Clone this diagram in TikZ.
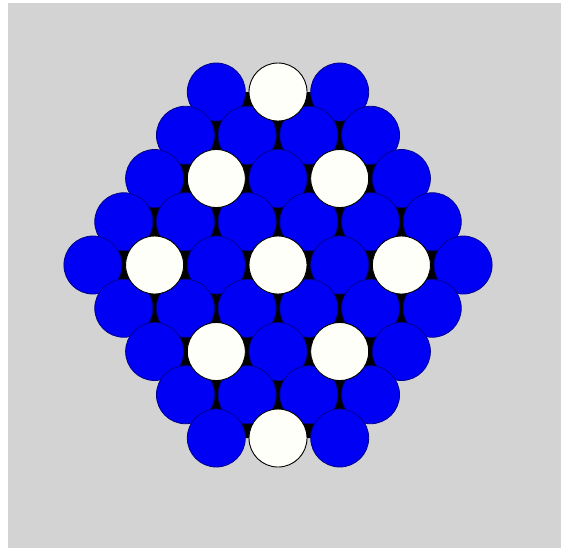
\documentclass[tikz,border=0pt]{standalone}
\definecolor{bggrey}{RGB}{211,211,211}
\definecolor{blu}{RGB}{0,0,245}
\definecolor{blurim}{RGB}{0,0,140}
\definecolor{wht}{RGB}{255,255,250}
\tikzset{
  blueball/.style={draw=blurim, line width=0.8pt, fill=blu},
  whiteball/.style={draw=black, line width=0.9pt, fill=wht}
}
\begin{document}
\begin{tikzpicture}[x=1pt,y=-1pt]
\fill[white] (0,0) rectangle (561,550);
\fill[bggrey] (8,3) rectangle (561,548);
\def\dx{61.7}
\def\dy{43.25}
\def\cx{278}
\def\cy{265}
\def\rad{29}
% black backing between the balls
\fill[black] (\cx-\dx,\cy-4*\dy) -- (\cx+\dx,\cy-4*\dy) -- (\cx+3*\dx,\cy)
  -- (\cx+\dx,\cy+4*\dy) -- (\cx-\dx,\cy+4*\dy) -- (\cx-3*\dx,\cy) -- cycle;
% pass 1: blue balls, pass 2: white balls on top
\foreach \pass in {1,2}{
\foreach \r in {-4,...,4}{
  \pgfmathtruncatemacro\n{6-abs(\r)}
  \foreach \i in {0,...,\n}{
    \pgfmathsetmacro\o{\i-\n/2}
    \pgfmathtruncatemacro\w{(mod(\r+4,2)==0)*(mod(2*\o+\r+8,4)==0)}
    \ifnum\w=1
      \ifnum\pass=2 \path[whiteball] (\cx+\o*\dx, \cy+\r*\dy) circle[radius=\rad];\fi
    \else
      \ifnum\pass=1 \path[blueball] (\cx+\o*\dx, \cy+\r*\dy) circle[radius=\rad];\fi
    \fi
  }
}}
\end{tikzpicture}
\end{document}
